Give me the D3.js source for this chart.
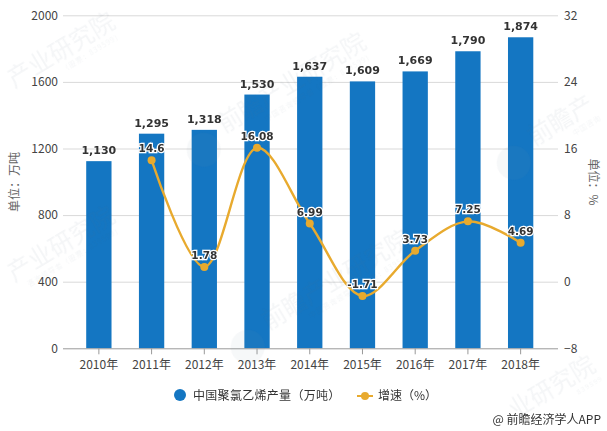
<!DOCTYPE html>
<html>
<head>
<meta charset="utf-8">
<script src="https://cdn.jsdelivr.net/npm/d3@7"></script>
<style>
html, body { margin: 0; padding: 0; background: #fff; }
svg { display: block; }
text { font-family: "Noto Sans CJK SC", "Noto Sans", sans-serif; }
</style>
</head>
<body>
<div id="chart"></div>
<script>
// data
var years = ['2010年', '2011年', '2012年', '2013年', '2014年', '2015年', '2016年', '2017年', '2018年'];
var output = [1130, 1295, 1318, 1530, 1637, 1609, 1669, 1790, 1874];
var growthYears = ['2011年', '2012年', '2013年', '2014年', '2015年', '2016年', '2017年', '2018年'];
var growth = [14.6, 1.78, 16.08, 6.99, -1.71, 3.73, 7.25, 4.69];
var growthLabels = ['14.6', '1.78', '16.08', '6.99', '-1.71', '3.73', '7.25', '4.69'];
var leftTicks = [0, 400, 800, 1200, 1600, 2000];
var rightTicks = [-8, 0, 8, 16, 24, 32];

var width = 607, height = 431;
var margin = {top: 15.3, bottom: 82.7, left: 72.5, right: 60};
var BLUE = '#1476c2', ORANGE = '#e8aa2e', TEXT = '#444';

var svg = d3.select('#chart').append('svg').attr('width', width).attr('height', height);

var x = d3.scaleBand().domain(years).range([margin.left, width - margin.right]).paddingInner(0.52).paddingOuter(0.26);
var y = d3.scaleLinear().domain([0, 2000]).range([height - margin.bottom, margin.top]);
var y2 = d3.scaleLinear().domain([-8, 32]).range([height - margin.bottom, margin.top]);
var cx = function(name) { return x(name) + x.bandwidth() / 2; };

// grid lines, they stick out past the plot on both sides
svg.append('g').selectAll('line').data(leftTicks.slice(1)).enter().append('line')
	.attr('x1', 63).attr('x2', 558)
	.attr('y1', function(d) { return y(d) + 0.5; })
	.attr('y2', function(d) { return y(d) + 0.5; })
	.attr('stroke', '#d9d9d9');

// bars, tops sit about 1px under the scale in the reference
svg.append('g').selectAll('rect').data(output).enter().append('rect')
	.attr('x', function(d, i) { return x(years[i]); })
	.attr('y', function(d) { return y(d) + 1; })
	.attr('width', x.bandwidth())
	.attr('height', function(d) { return y(0) - y(d) - 1; })
	.attr('fill', BLUE);

// x axis
var xAxis = svg.append('g')
	.attr('transform', 'translate(0,' + y(0) + ')')
	.call(d3.axisBottom(x).tickSize(6).tickPadding(6).tickSizeOuter(0));
xAxis.select('.domain').attr('stroke', '#999').attr('d', 'M63,0.5H558');
xAxis.selectAll('line').attr('stroke', '#999');
xAxis.selectAll('text').attr('fill', TEXT).style('font-size', '12px');

// y axes
var leftAxis = svg.append('g')
	.attr('transform', 'translate(63,0)')
	.call(d3.axisLeft(y).tickValues(leftTicks).tickFormat(d3.format('d')).tickSize(0).tickPadding(5));
leftAxis.select('.domain').remove();
leftAxis.selectAll('text').attr('fill', TEXT).style('font-size', '12px');

var rightAxis = svg.append('g')
	.attr('transform', 'translate(558,0)')
	.call(d3.axisRight(y2).tickValues(rightTicks).tickSize(0).tickPadding(6));
rightAxis.select('.domain').remove();
rightAxis.selectAll('text').attr('fill', TEXT).style('font-size', '12px');

// axis titles
svg.append('text').attr('transform', 'translate(16,182) rotate(-90)')
	.attr('text-anchor', 'middle').attr('dominant-baseline', 'middle')
	.attr('fill', '#666').style('font-size', '12px').text('单位：万吨');
svg.append('text').attr('transform', 'translate(592,182) rotate(90)')
	.attr('text-anchor', 'middle').attr('dominant-baseline', 'middle')
	.attr('fill', '#666').style('font-size', '12px').text('单位：%');

// watermark, only the part of each one that shows inside the picture
var marks = [
	{x: 14, y: 88, main: '产业研究院', sub: '（股票：839599）', logo: false},
	{x: 224, y: 133, main: '前瞻产业研究院', sub: '中国咨询领导者（股票：839599）', logo: true},
	{x: 534, y: 146, main: '前瞻产', sub: '中国咨询', logo: true},
	{x: 14, y: 282, main: '产业研究院', sub: '咨询领导者（股票：839599）', logo: false},
	{x: 268, y: 330, main: '前瞻产业研究院', sub: '中国咨询领导者（股票：839599）', logo: true},
	{x: 515, y: 419, main: '业研究院', sub: '839599', logo: false}
];
var wm = svg.append('g').attr('opacity', 0.07);
marks.forEach(function(m) {
	var g = wm.append('g').attr('transform', 'translate(' + m.x + ',' + m.y + ') rotate(-31)');
	if (m.logo) {
		g.append('circle').attr('cx', -26).attr('cy', 4).attr('r', 17).attr('fill', '#7f93a8');
	}
	g.append('text').attr('fill', '#5f7388').style('font-size', '24px').text(m.main);
	g.append('text').attr('x', m.main.length * 24).attr('y', 12).attr('text-anchor', 'end')
		.attr('fill', '#5f7388').style('font-size', '7px').attr('letter-spacing', 1).text(m.sub);
});

// growth line
var line = d3.line()
	.x(function(d, i) { return cx(growthYears[i]); })
	.y(function(d) { return y2(d); })
	.curve(d3.curveCatmullRom.alpha(0.5));

svg.append('path').datum(growth)
	.attr('d', line)
	.attr('fill', 'none')
	.attr('stroke', ORANGE)
	.attr('stroke-width', 2.4);

svg.append('g').selectAll('circle').data(growth).enter().append('circle')
	.attr('cx', function(d, i) { return cx(growthYears[i]); })
	.attr('cy', function(d) { return y2(d); })
	.attr('r', 4)
	.attr('fill', ORANGE);

// value labels
svg.append('g').selectAll('text').data(output).enter().append('text')
	.attr('x', function(d, i) { return cx(years[i]); })
	.attr('y', function(d) { return y(d) - 6; })
	.attr('text-anchor', 'middle')
	.attr('fill', '#333')
	.style('font-family', '"DejaVu Sans"')
	.style('font-weight', 'bold')
	.style('font-size', '11px')
	.text(function(d) { return d3.format(',')(d); });

svg.append('g').selectAll('text').data(growth).enter().append('text')
	.attr('x', function(d, i) { return cx(growthYears[i]); })
	.attr('y', function(d) { return y2(d) - 8; })
	.attr('text-anchor', 'middle')
	.attr('fill', '#333')
	.attr('stroke', '#fff')
	.attr('stroke-width', 2.5)
	.attr('paint-order', 'stroke')
	.style('font-family', '"DejaVu Sans"')
	.style('font-weight', 'bold')
	.style('font-size', '10.5px')
	.text(function(d, i) { return growthLabels[i]; });

// legend
var legend = svg.append('g');
legend.append('circle').attr('cx', 180).attr('cy', 395).attr('r', 6).attr('fill', BLUE);
legend.append('text').attr('x', 193).attr('y', 399.5).attr('fill', '#333').attr('letter-spacing', 0.3).style('font-size', '12px').text('中国聚氯乙烯产量（万吨）');
legend.append('line').attr('x1', 357).attr('x2', 373).attr('y1', 396).attr('y2', 396).attr('stroke', ORANGE).attr('stroke-width', 2);
legend.append('circle').attr('cx', 365).attr('cy', 396).attr('r', 4).attr('fill', ORANGE);
legend.append('text').attr('x', 378).attr('y', 399.5).attr('fill', '#333').style('font-size', '12px').text('增速（%）');

// credit
svg.append('text').attr('x', 601).attr('y', 424).attr('text-anchor', 'end')
	.attr('fill', '#333').style('font-size', '12px').text('@ 前瞻经济学人APP');
</script>
</body>
</html>
